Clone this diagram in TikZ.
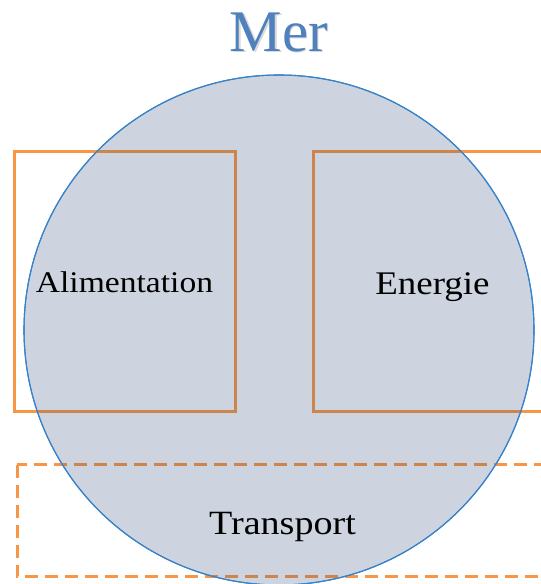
\documentclass[tikz,border=0pt]{standalone}
\usepackage{fontspec}
\setmainfont{Liberation Serif}
\definecolor{org}{RGB}{247,150,70}
\definecolor{orgdark}{RGB}{205,133,78}
\definecolor{circfill}{RGB}{205,212,223}
\definecolor{circline}{RGB}{55,130,200}
\definecolor{titleblue}{RGB}{79,129,189}
\begin{document}
\begin{tikzpicture}[x=1pt,y=1pt,
  box/.style={line width=3pt, draw=#1},
  dbox/.style={line width=3pt, draw=#1, dash pattern=on 13pt off 7pt},
  lbl/.style={anchor=base, inner sep=0pt, text=black}]
\useasboundingbox (0,0) rectangle (541,584);
% rectangles (outside colour)
\path[box=org] (14,432) rectangle (235,172);
\path[box=org] (313,432) rectangle (560,172);
\path[dbox=org] (17,119) rectangle (560,7);
% circle
\node[circle, minimum size=510pt, inner sep=0pt, fill=circfill, draw=circline, line width=1.1pt] (mer) at (279,254) {};
% rectangle parts inside circle
\begin{scope}
\clip (279,254) circle (254.5pt);
\path[box=orgdark] (14,432) rectangle (235,172);
\path[box=orgdark] (313,432) rectangle (560,172);
\path[dbox=orgdark] (17,119) rectangle (560,7);
\end{scope}
\draw[circline, line width=1.1pt] (279,254) circle (255pt);
% labels
\node[lbl, font=\fontsize{30}{34}\selectfont] (alim) at (124.5,291) {\scalebox{1.12}[1]{Alimentation}};
\node[lbl, font=\fontsize{33}{36}\selectfont] (ener) at (432.5,289) {\scalebox{1.12}[1]{Energie}};
\node[lbl, font=\fontsize{34}{38}\selectfont] (trans) at (282.5,49) {\scalebox{1.12}[1]{Transport}};
\node[text=black!15, font=\fontsize{59}{64}\selectfont] at (280.3,550.8) {Mer};
\node[text=titleblue, font=\fontsize{59}{64}\selectfont] (title) at (279,552) {Mer};
\end{tikzpicture}
\end{document}
